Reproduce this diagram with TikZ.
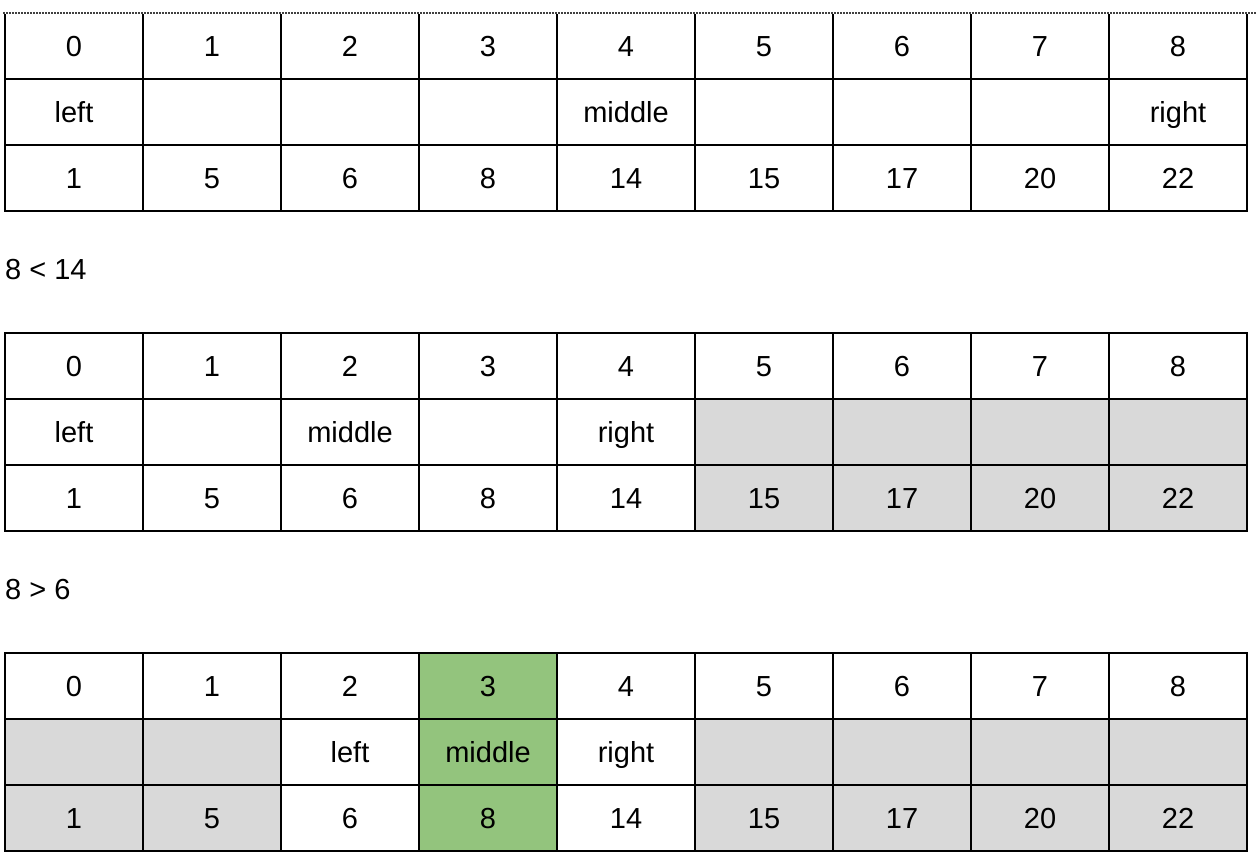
\documentclass[tikz,border=0pt]{standalone}
\usepackage{fontspec}
\setmainfont{Liberation Sans}
\usetikzlibrary{positioning}
\definecolor{dropped}{HTML}{D9D9D9}
\definecolor{found}{HTML}{93C47D}
\tikzstyle{cell} = [draw=black, line width=1.6pt, fill=white, anchor=north west, inner sep=0, outer sep=0,
                    minimum width=138pt, minimum height=66pt, text height=23pt, text depth=2pt,
                    font=\fontsize{29}{33}\selectfont]
\tikzstyle{note} = [anchor=west, inner sep=0, font=\fontsize{29}{33}\selectfont]

\begin{document}
\begin{tikzpicture}[x=1pt, y=-1pt]
	\useasboundingbox (0,0) rectangle (1258,860);

	% first step
	\foreach \i in {0,...,8}
		\node (Aidx\i) [cell] at (5+138*\i, 13) {\i};
	\foreach \lab [count=\i from 0] in {left,,,,middle,,,,right}
		\node (Apos\i) [cell] at (5+138*\i, 79) {\lab};
	\foreach \v [count=\i from 0] in {1,5,6,8,14,15,17,20,22}
		\node (Aval\i) [cell] at (5+138*\i, 145) {\v};
	\coordinate (TopL) at (3, 13);
	\coordinate (TopR) at (1256, 13);
	\draw [white, line width=2.4pt] (TopL) -- (TopR);
	\draw [dash pattern=on 1.6pt off 1.4pt, line width=1.6pt, black!75] (TopL) -- (TopR);

	\node (CmpA) [note] at (5, 270) {8 < 14};

	% second step
	\foreach \i in {0,...,8}
		\node (Bidx\i) [cell] at (5+138*\i, 333) {\i};
	\foreach \lab/\f [count=\i from 0] in {left/white, /white, middle/white, /white, right/white,
	                                        /dropped, /dropped, /dropped, /dropped}
		\node (Bpos\i) [cell, fill=\f] at (5+138*\i, 399) {\lab};
	\foreach \v/\f [count=\i from 0] in {1/white, 5/white, 6/white, 8/white, 14/white,
	                                      15/dropped, 17/dropped, 20/dropped, 22/dropped}
		\node (Bval\i) [cell, fill=\f] at (5+138*\i, 465) {\v};

	\node (CmpB) [note] at (5, 590) {8 > 6};

	% third step
	\foreach \f [count=\i from 0] in {white, white, white, found, white, white, white, white, white}
		\node (Cidx\i) [cell, fill=\f] at (5+138*\i, 653) {\i};
	\foreach \lab/\f [count=\i from 0] in {/dropped, /dropped, left/white, middle/found, right/white,
	                                        /dropped, /dropped, /dropped, /dropped}
		\node (Cpos\i) [cell, fill=\f] at (5+138*\i, 719) {\lab};
	\foreach \v/\f [count=\i from 0] in {1/dropped, 5/dropped, 6/white, 8/found, 14/white,
	                                      15/dropped, 17/dropped, 20/dropped, 22/dropped}
		\node (Cval\i) [cell, fill=\f] at (5+138*\i, 785) {\v};
\end{tikzpicture}
\end{document}
